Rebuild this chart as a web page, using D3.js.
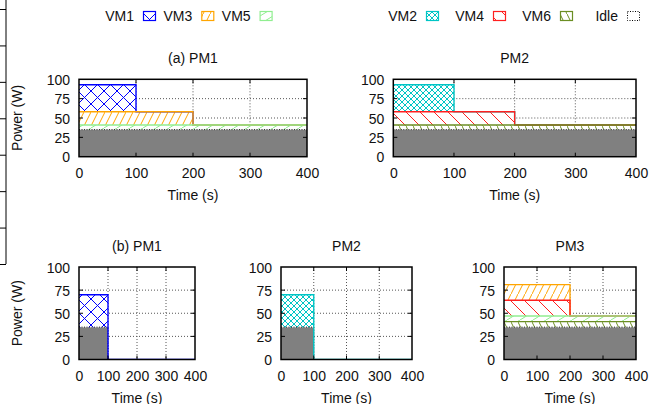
<!DOCTYPE html>
<html>
<head>
<meta charset="utf-8">
<script src="https://cdn.jsdelivr.net/npm/d3@7/dist/d3.min.js"></script>
<style>
  body { margin: 0; background: #fff; }
  svg { display: block; font-family: "Liberation Sans", Arial, sans-serif; font-size: 14px; }
</style>
</head>
<body>
<svg id="chart" width="652" height="404"></svg>
<script>
// time steps: power holds from one step to the next
var stepTimes = [0, 100, 200, 400];
var timeTicks = [0, 100, 200, 300, 400];
var powerTicks = [0, 25, 50, 75, 100];

// power (W) of each VM in [0,100), [100,200), [200,400]
var vm1 = [35, 0, 0];
var vm2 = [35, 0, 0];
var vm3 = [17, 17, 0];
var vm4 = [17, 17, 0];
var vm5 = [6, 6, 6];
var vm6 = [6, 6, 6];
var idleOn = [35, 35, 35];
var idleShort = [35, 0, 0];

var legendLeft = ["VM1", "VM3", "VM5"];
var legendRight = ["VM2", "VM4", "VM6", "Idle"];

var panelTitles = ["(a) PM1", "PM2", "(b) PM1", "PM2", "PM3"];
var panelIdle = [idleOn, idleOn, idleShort, idleShort, idleOn];
var panelVms = [
  ["VM5", "VM3", "VM1"],
  ["VM6", "VM4", "VM2"],
  ["VM1"],
  ["VM2"],
  ["VM6", "VM5", "VM4", "VM3"]
];

var series = { VM1: vm1, VM2: vm2, VM3: vm3, VM4: vm4, VM5: vm5, VM6: vm6 };

var colors = {
  VM1: "#0000ff", VM2: "#00c5c5", VM3: "#ffa500",
  VM4: "#ff2020", VM5: "#90ee90", VM6: "#6b8e23"
};

// frame boxes of the five panels
var frames = [
  { x0: 79, x1: 307, y0: 79.3, y1: 156.7, ylabel: true },
  { x0: 393.3, x1: 636, y0: 79.3, y1: 156.7 },
  { x0: 79, x1: 195, y0: 267, y1: 359.5, ylabel: true },
  { x0: 281, x1: 412, y0: 267, y1: 359.5 },
  { x0: 504, x1: 636, y0: 267, y1: 359.5 }
];

var svg = d3.select("#chart");
var defs = svg.append("defs");

// hatch patterns, gnuplot style
function hatch(id, w, h, color, lines) {
  var p = defs.append("pattern")
    .attr("id", id)
    .attr("patternUnits", "userSpaceOnUse")
    .attr("width", w)
    .attr("height", h);
  p.append("rect").attr("width", w).attr("height", h).attr("fill", "#fff");
  lines.forEach(function (l) {
    p.append("line")
      .attr("x1", l[0]).attr("y1", l[1]).attr("x2", l[2]).attr("y2", l[3])
      .attr("stroke", color).attr("stroke-width", 1);
  });
}
hatch("p-VM1", 13, 13, colors.VM1, [[0, 0, 13, 13], [0, 13, 13, 0]]);
hatch("p-VM2", 6, 6, colors.VM2, [[0, 0, 6, 6], [0, 6, 6, 0]]);
hatch("p-VM3", 7, 14, colors.VM3, [[0, 14, 7, 0]]);
hatch("p-VM4", 14, 14, colors.VM4, [[0, 0, 14, 14]]);
hatch("p-VM5", 13, 8, colors.VM5, [[0, 8, 13, 0]]);
hatch("p-VM6", 7, 14, colors.VM6, [[0, 0, 7, 14]]);

// piece of a neighbouring figure at the left edge
var edgeScale = d3.scaleLinear().domain([0, 7]).range([264, 9]);
var edge = svg.append("g").attr("transform", "translate(6,0)");
edge.append("line").attr("x1", 0).attr("x2", 0).attr("y1", 0).attr("y2", 264)
  .attr("stroke", "#000").attr("stroke-width", 1);
edge.call(d3.axisLeft(edgeScale).tickValues(d3.range(0, 8)).tickFormat("").tickSize(6).tickSizeOuter(0))
  .call(function (g) { g.select(".domain").remove(); });

// legend
function legendRow(names, x0, step) {
  names.forEach(function (name, i) {
    var sx = x0 + i * step;
    svg.append("text")
      .attr("x", sx - 9).attr("y", 20.5)
      .attr("text-anchor", "end")
      .attr("fill", "#111")
      .text(name);
    var r = svg.append("rect")
      .attr("x", sx + 0.5).attr("y", 11.5)
      .attr("width", 12).attr("height", 9);
    if (name === "Idle") {
      r.attr("fill", "#fff").attr("stroke", "#000").attr("stroke-dasharray", "1,1.5");
    } else {
      r.attr("fill", "url(#p-" + name + ")").attr("stroke", colors[name]).attr("stroke-width", 1.2);
    }
  });
}
legendRow(legendLeft, 143, 58.3);
legendRow(legendRight, 426, 67);

frames.forEach(function (f, pi) {
  var x = d3.scaleLinear().domain([0, 400]).range([f.x0, f.x1]);
  var y = d3.scaleLinear().domain([0, 100]).range([f.y1, f.y0]);
  var g = svg.append("g");

  var keys = ["Idle"].concat(panelVms[pi]);
  var rows = stepTimes.map(function (t, i) {
    var k = Math.min(i, 2);
    var row = { t: t, Idle: panelIdle[pi][k] };
    panelVms[pi].forEach(function (v) { row[v] = series[v][k]; });
    return row;
  });
  var stacked = d3.stack().keys(keys)(rows);

  var clipId = "clip" + pi;
  defs.append("clipPath").attr("id", clipId)
    .append("rect")
    .attr("x", f.x0).attr("y", f.y0 - 1)
    .attr("width", f.x1 - f.x0).attr("height", f.y1 - f.y0 + 1);

  // grid
  g.append("g").selectAll("line").data(timeTicks.slice(1, -1)).enter().append("line")
    .attr("x1", function (d) { return x(d); }).attr("x2", function (d) { return x(d); })
    .attr("y1", f.y0).attr("y2", f.y1)
    .attr("stroke", "#555").attr("stroke-dasharray", "1,2");
  g.append("g").selectAll("line").data(powerTicks.slice(1, -1)).enter().append("line")
    .attr("y1", function (d) { return y(d); }).attr("y2", function (d) { return y(d); })
    .attr("x1", f.x0).attr("x2", f.x1)
    .attr("stroke", "#555").attr("stroke-dasharray", "1,2");

  var area = d3.area().curve(d3.curveStepAfter)
    .x(function (d) { return x(d.data.t); })
    .y0(function (d) { return y(d[0]); })
    .y1(function (d) { return y(d[1]); });
  var top = d3.line().curve(d3.curveStepAfter)
    .x(function (d) { return x(d.data.t); })
    .y(function (d) { return y(d[1]); });

  var plot = g.append("g").attr("clip-path", "url(#" + clipId + ")");

  plot.selectAll("path.fill").data(stacked).enter().append("path")
    .attr("class", "fill")
    .attr("d", area)
    .attr("fill", function (s) { return s.key === "Idle" ? "#808080" : "url(#p-" + s.key + ")"; });

  // idle border first, then the VMs from the top down
  plot.append("path").datum(stacked[0])
    .attr("d", top).attr("fill", "none")
    .attr("stroke", "#222").attr("stroke-dasharray", "1,1.5");
  stacked.slice(1).reverse().forEach(function (s) {
    plot.append("path").datum(s)
      .attr("d", top).attr("fill", "none")
      .attr("stroke", colors[s.key]).attr("stroke-width", 1.4);
  });

  // frame and ticks
  var xAxis = d3.axisBottom(x).tickValues(timeTicks).tickSize(0).tickPadding(0);
  var yAxis = d3.axisLeft(y).tickValues(powerTicks).tickSize(0).tickPadding(0);

  g.append("g").attr("transform", "translate(0," + f.y1 + ")")
    .call(xAxis)
    .attr("font-family", null).attr("font-size", null)
    .call(function (a) {
      a.select(".domain").remove();
      a.selectAll("text").attr("dy", null).attr("y", 21.5).attr("fill", "#111");
    });
  g.append("g").attr("transform", "translate(" + (f.x0 - 9) + ",0)")
    .call(yAxis)
    .attr("font-family", null).attr("font-size", null)
    .call(function (a) {
      a.select(".domain").remove();
      a.selectAll("text").attr("dy", "0.36em").attr("x", 0).attr("fill", "#111");
    });

  var ticks = g.append("g").attr("stroke", "#000").attr("stroke-width", 1);
  timeTicks.slice(1, -1).forEach(function (t) {
    ticks.append("line").attr("x1", x(t)).attr("x2", x(t)).attr("y1", f.y0).attr("y2", f.y0 + 4);
    ticks.append("line").attr("x1", x(t)).attr("x2", x(t)).attr("y1", f.y1).attr("y2", f.y1 - 4);
  });
  powerTicks.slice(1, -1).forEach(function (p) {
    ticks.append("line").attr("y1", y(p)).attr("y2", y(p)).attr("x1", f.x1).attr("x2", f.x1 - 4);
    ticks.append("line").attr("y1", y(p)).attr("y2", y(p)).attr("x1", f.x0).attr("x2", f.x0 + 4);
  });

  g.append("rect")
    .attr("x", f.x0).attr("y", f.y0)
    .attr("width", f.x1 - f.x0).attr("height", f.y1 - f.y0)
    .attr("fill", "none").attr("stroke", "#000").attr("stroke-width", 1.5);

  var cx = (f.x0 + f.x1) / 2;
  g.append("text").attr("x", cx).attr("y", f.y0 - 16).attr("text-anchor", "middle")
    .attr("fill", "#111").text(panelTitles[pi]);
  g.append("text").attr("x", cx).attr("y", f.y1 + 43).attr("text-anchor", "middle")
    .attr("fill", "#111").text("Time (s)");
  if (f.ylabel) {
    var cy = (f.y0 + f.y1) / 2;
    g.append("text")
      .attr("transform", "translate(22," + cy + ") rotate(-90)")
      .attr("text-anchor", "middle")
      .attr("fill", "#111")
      .text("Power (W)");
  }
});
</script>
</body>
</html>
